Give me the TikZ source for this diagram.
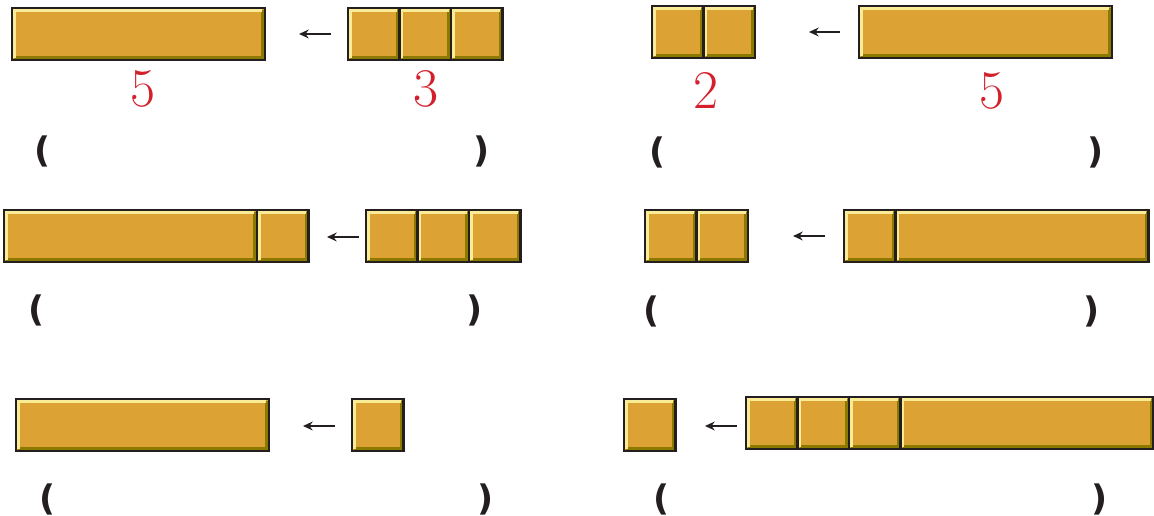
\documentclass[tikz,border=0pt]{standalone}
\usepackage{fontspec}
\usepackage{tikz}
\usetikzlibrary{
    arrows.meta,
    positioning
}
\newfontfamily\parenfont{DejaVu Sans}

\definecolor{barGold}{RGB}{220,163,52}
\definecolor{barLight}{RGB}{250,236,150}
\definecolor{barDark}{RGB}{140,122,0}
\definecolor{blockLine}{RGB}{35,31,32}
\definecolor{numRed}{RGB}{212,32,44}

\begin{document}
\begin{tikzpicture}[x=0.02cm, y=-0.02cm,
    block/.style={draw=blockLine, line width=1.3pt, fill=barGold,
        inner sep=0pt, outer sep=0pt, minimum height=1.04cm, anchor=north west,
        path picture={
            \draw[barDark, line width=1.4pt]
                ([shift={(1.4pt,1.4pt)}]path picture bounding box.south west)
                -| ([shift={(-1.4pt,-1.4pt)}]path picture bounding box.north east);
            \draw[barLight, line width=1.4pt]
                ([shift={(1.4pt,1.4pt)}]path picture bounding box.south west)
                |- ([shift={(-1.4pt,-1.4pt)}]path picture bounding box.north east);
        }},
    sq/.style={block, minimum width=1.03cm},
    bar/.style={block, minimum width=5.06cm},
    pointer/.style={-{Stealth[length=5.5pt,width=5pt]}, line width=1.4pt, blockLine},
    num/.style={numRed, font=\fontsize{31}{33}\selectfont, inner sep=0pt},
    paren/.style={blockLine, font=\parenfont\bfseries\fontsize{20}{22}\selectfont, inner sep=0pt}
]

\useasboundingbox (0,0) rectangle (1154,516);

% Row 1, left
\node[bar] (a1) at (12,8) {};
\node[sq] (a2) at (348,8) {};
\node[sq, right=0pt of a2] (a3) {};
\node[sq, right=0pt of a3] (a4) {};
\node[num] (na1) at (143,89) {5};
\node[num] (na2) at (426,89) {3};

% Row 1, right
\node[sq] (b1) at (652,6) {};
\node[sq, right=0pt of b1] (b2) {};
\node[bar] (b3) at (859,6) {};
\node[num] (nb1) at (706,91) {2};
\node[num] (nb2) at (992,91) {5};

% Row 2, left
\node[bar] (c1) at (4,210) {};
\node[sq, right=0pt of c1] (c2) {};
\node[sq] (c3) at (366,210) {};
\node[sq, right=0pt of c3] (c4) {};
\node[sq, right=0pt of c4] (c5) {};

% Row 2, right
\node[sq] (d1) at (645,210) {};
\node[sq, right=0pt of d1] (d2) {};
\node[sq] (d3) at (844,210) {};
\node[bar, right=0pt of d3] (d4) {};

% Row 3, left
\node[bar] (e1) at (16,399) {};
\node[sq] (e2) at (352,399) {};

% Row 3, right
\node[sq] (f1) at (624,399) {};
\node[sq] (f2) at (746,397) {};
\node[sq, right=0pt of f2] (f3) {};
\node[sq, right=0pt of f3] (f4) {};
\node[bar, right=0pt of f4] (f5) {};

% Arrows (tail/head)
\foreach \i/\xa/\xb/\y in {1/331/299/34, 2/840/809/32, 3/359/327/237,
                            4/825/793/236, 5/335/303/426, 6/737/705/426} {
    \coordinate (t\i) at (\xa,\y);
    \coordinate (h\i) at (\xb,\y);
    \draw[pointer] (t\i) -- (h\i);
}

% Brackets
\foreach \i/\xl/\xr/\y in {1/43/482/151, 2/658/1096/152, 3/37/475/310,
                           4/652/1092/311, 5/48/486/499, 6/662/1100/499} {
    \node[paren] (lp\i) at (\xl,\y) {(};
    \node[paren] (rp\i) at (\xr,\y) {)};
}

\end{tikzpicture}
\end{document}
